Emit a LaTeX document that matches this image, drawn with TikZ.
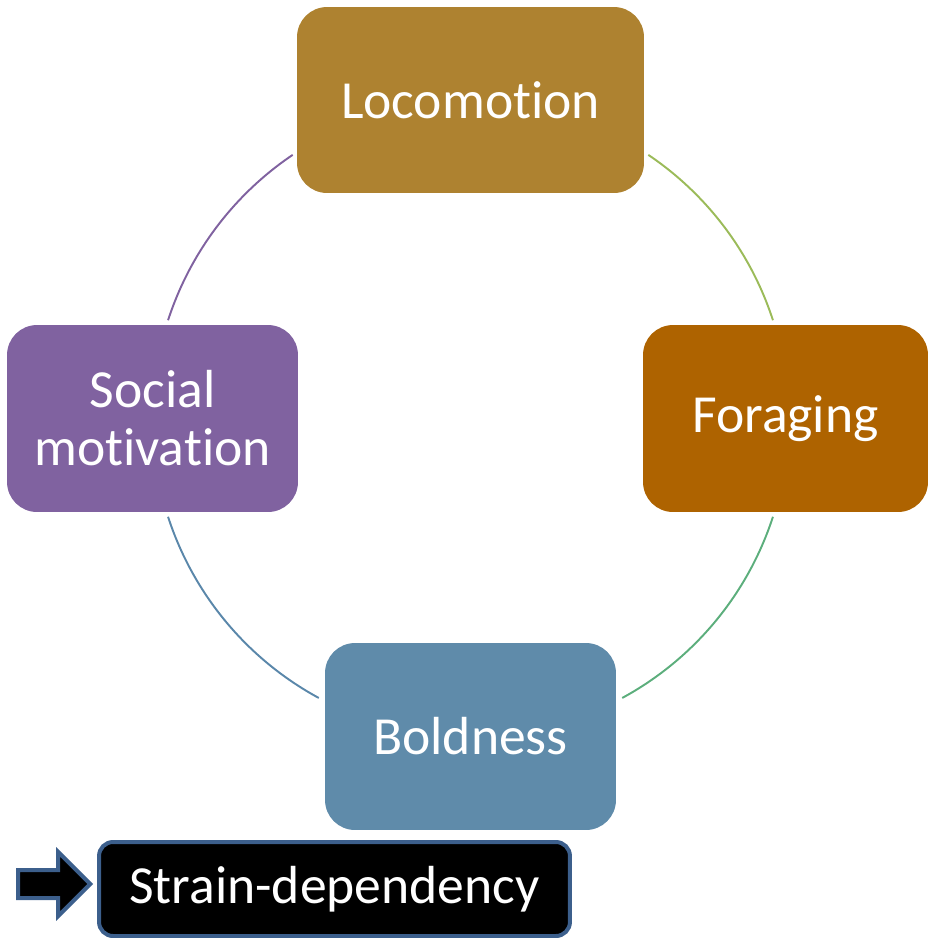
\documentclass[tikz,border=0pt]{standalone}
\usepackage{fontspec}
\setmainfont{Carlito}[Ligatures=NoCommon]
\definecolor{loco1}{RGB}{174, 130, 48}
\definecolor{forage1}{RGB}{174, 99, 0}
\definecolor{bold1}{RGB}{95, 139, 170}
\definecolor{social1}{RGB}{128, 98, 160}
\definecolor{strain1}{RGB}{60, 95, 140}
\definecolor{arcA}{RGB}{155, 187, 89}
\definecolor{arcB}{RGB}{92, 174, 124}
\definecolor{arcC}{RGB}{90, 135, 170}
\definecolor{arcD}{RGB}{128, 98, 160}
\usepackage{tikz}
\usetikzlibrary{shapes, arrows.meta, positioning}

\begin{document}
\begin{tikzpicture}[x=0.02cm, y=-0.02cm,
    phasebox/.style={rounded corners=0.6cm, text=white, align=center, inner sep=0pt,
      font=\fontsize{30.5}{33}\selectfont},
    ring/.style={line width=1.1pt}]
  \useasboundingbox (0,0) rectangle (930,938);
  \coordinate (hub) at (470.5,418.5);

  \node[phasebox, fill=loco1, minimum width=6.94cm, minimum height=3.72cm] (loco) at (470.5,100) {Locomotion};
  \node[phasebox, fill=forage1, minimum width=5.7cm, minimum height=3.74cm] (forage) at (785.5,418.5) {Foraging};
  \node[phasebox, fill=bold1, minimum width=5.82cm, minimum height=3.74cm] (bold) at (470.5,736.5) {Boldness};
  \node[phasebox, fill=social1, minimum width=5.82cm, minimum height=3.74cm] (social) at (152.5,418.5) {Social\\motivation};

  \draw[ring, arcA] (hub) ++(-56:318) arc[start angle=-56, end angle=-18, radius=318];
  \draw[ring, arcB] (hub) ++(18:318) arc[start angle=18, end angle=61.5, radius=318];
  \draw[ring, arcC] (hub) ++(118.5:318) arc[start angle=118.5, end angle=162, radius=318];
  \draw[ring, arcD] (hub) ++(198:318) arc[start angle=198, end angle=236, radius=318];

  \node[draw=strain1, line width=0.08cm, fill=black, rounded corners=0.28cm, text=white,
    minimum width=9.42cm, minimum height=1.88cm, font=\fontsize{30.5}{33}\selectfont] (strain) at (334.5,889) {Strain-dependency};
  \node[single arrow, draw=strain1, fill=black, line width=0.08cm, inner xsep=0pt, inner ysep=0.24cm,
    minimum height=1.44cm, minimum width=1.2cm, single arrow head extend=0.36cm,
    left=0.08cm of strain, yshift=0.1cm] (pointer) {};
\end{tikzpicture}
\end{document}
